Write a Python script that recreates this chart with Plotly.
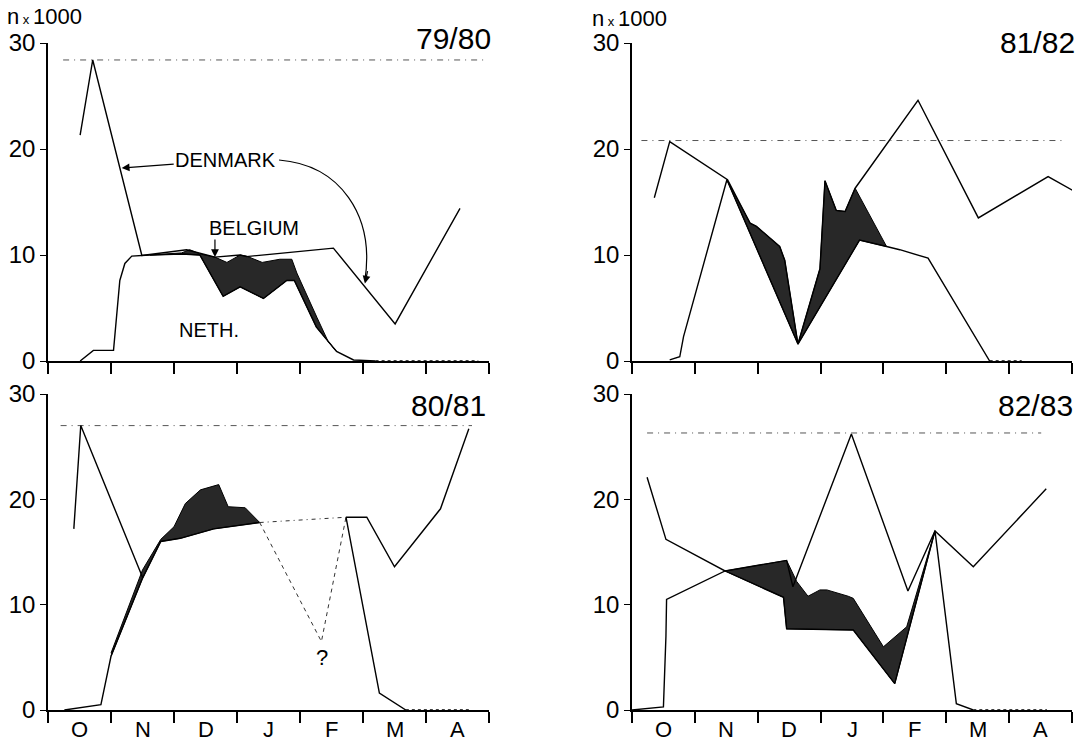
import plotly.graph_objects as go

FONT = "Liberation Sans, Arial, sans-serif"

months = ["O", "N", "D", "J", "F", "M", "A"]
month_centres = [0.5, 1.5, 2.5, 3.5, 4.5, 5.5, 6.5]
month_bounds = [0, 1, 2, 3, 4, 5, 6, 7]
y_ticks = [0, 10, 20, 30]

# ---- season 79/80 (x = months since 1 October, y = birds x 1000) ----
neth_7980_x = [0.51, 0.72, 1.04, 1.10, 1.14, 1.22, 1.33, 1.62, 2.12, 2.41, 2.78, 3.05, 3.42, 3.79, 3.91, 4.26, 4.58, 4.85, 5.2]
neth_7980_y = [0.0, 1.0, 1.0, 4.7, 7.6, 9.2, 9.9, 10.0, 10.1, 10.0, 6.1, 7.0, 5.9, 7.6, 7.6, 3.2, 0.9, 0.1, 0.0]
bel_7980_x = [1.62, 2.12, 2.25, 2.41, 2.65, 2.84, 3.05, 3.15, 3.40, 3.68, 3.87, 3.95, 4.27, 4.45, 4.58]
bel_7980_y = [10.0, 10.2, 10.5, 10.1, 9.8, 9.3, 10.0, 9.9, 9.3, 9.6, 9.6, 8.3, 4.1, 1.8, 0.9]
tot_7980_x = [0.51, 0.71, 1.49, 2.2, 2.65, 3.05, 3.15, 4.53, 5.51, 6.54]
tot_7980_y = [21.3, 28.4, 9.95, 10.5, 9.8, 10.0, 9.85, 10.65, 3.5, 14.4]
max_7980 = 28.4
max_span_7980 = [0.24, 6.97]
zero_span_7980 = [5.2, 6.83]

# ---- season 81/82 ----
neth_8182_x = [0.60, 0.76, 0.82, 1.51, 2.64, 3.62, 4.05, 4.26, 4.71, 5.69]
neth_8182_y = [0.1, 0.4, 2.3, 17.1, 1.6, 11.4, 10.8, 10.5, 9.7, 0.0]
bel_8182_x = [1.51, 1.88, 1.98, 2.35, 2.43, 2.64, 2.99, 3.07, 3.25, 3.39, 3.55, 4.05]
bel_8182_y = [17.1, 13.0, 12.7, 10.8, 9.5, 1.6, 8.7, 17.0, 14.2, 14.1, 16.3, 10.8]
tot_8182_x = [0.355, 0.60, 1.52, 1.88, 1.98, 2.35, 2.43, 2.64, 2.99, 3.07, 3.25, 3.39, 3.55, 4.55, 5.51, 6.62, 7.04]
tot_8182_y = [15.4, 20.7, 17.1, 13.0, 12.7, 10.8, 9.5, 1.6, 8.7, 17.0, 14.2, 14.1, 16.3, 24.6, 13.5, 17.4, 16.0]
max_8182 = 20.8
max_span_8182 = [0.15, 6.91]
zero_span_8182 = [5.69, 6.2]

# ---- season 80/81 ----
neth_8081_x = [0.26, 0.84, 1.0, 1.50, 1.79, 2.10, 2.63, 3.36]
neth_8081_y = [0.0, 0.5, 5.1, 12.5, 16.0, 16.3, 17.2, 17.8]
neth_est_8081_x = [3.36, 4.34, 4.73]
neth_est_8081_y = [17.8, 6.5, 18.3]
neth_late_8081_x = [4.73, 5.26, 5.68]
neth_late_8081_y = [18.3, 1.6, 0.0]
bel_8081_x = [1.0, 1.50, 1.79, 2.0, 2.18, 2.42, 2.71, 2.86, 3.13, 3.36]
bel_8081_y = [5.4, 13.3, 16.2, 17.4, 19.6, 20.9, 21.4, 19.3, 19.2, 17.8]
tot_8081_x = [0.41, 0.52, 1.50]
tot_8081_y = [17.2, 27.0, 12.6]
tot_est_8081_x = [3.36, 4.73]
tot_est_8081_y = [17.8, 18.3]
tot_late_8081_x = [4.73, 5.06, 5.50, 6.23, 6.68]
tot_late_8081_y = [18.3, 18.3, 13.6, 19.1, 26.7]
max_8081 = 27.0
max_span_8081 = [0.2, 6.73]
zero_span_8081 = [5.68, 6.7]

# ---- season 82/83 ----
neth_8283_x = [0.0, 0.5, 0.54, 0.55, 1.48, 2.41, 2.46, 3.52, 4.18, 4.42, 4.82, 5.16, 5.43]
neth_8283_y = [0.0, 0.3, 7.0, 10.5, 13.2, 10.7, 7.7, 7.6, 2.5, 7.9, 17.0, 0.6, 0.0]
bel_8283_x = [1.48, 2.03, 2.46, 2.62, 2.80, 2.99, 3.10, 3.44, 3.52, 4.0, 4.37, 4.82]
bel_8283_y = [13.2, 13.8, 14.2, 12.2, 10.8, 11.4, 11.4, 10.8, 10.6, 6.0, 7.9, 17.0]
tot_8283_x = [0.24, 0.54, 1.48, 2.03, 2.46, 2.56, 3.49, 4.39, 4.82, 5.43, 6.59]
tot_8283_y = [22.1, 16.2, 13.2, 13.8, 14.2, 11.7, 26.2, 11.3, 17.0, 13.6, 21.0]
max_8283 = 26.3
max_span_8283 = [0.24, 6.51]
zero_span_8283 = [5.43, 6.6]

fig = go.Figure()


def add_line(n, xs, ys, dash="solid", width=1.4, color="black"):
    fig.add_trace(go.Scatter(
        x=xs, y=ys, mode="lines", xaxis=f"x{n}", yaxis=f"y{n}",
        line=dict(color=color, width=width, dash=dash),
        cliponaxis=False, showlegend=False, hoverinfo="skip"))


def add_band(n, bel_x, bel_y, neth_x, neth_y):
    lo, hi = bel_x[0], bel_x[-1]
    seg = [(x, y) for x, y in zip(neth_x, neth_y) if lo <= x <= hi]
    seg.reverse()
    px = list(bel_x) + [p[0] for p in seg]
    py = list(bel_y) + [p[1] for p in seg]
    fig.add_trace(go.Scatter(
        x=px, y=py, mode="lines", fill="toself", fillcolor="rgb(40,40,40)",
        line=dict(color="black", width=1), xaxis=f"x{n}", yaxis=f"y{n}",
        cliponaxis=False, showlegend=False, hoverinfo="skip"))


def add_common(n, max_y, max_span, zero_span):
    add_line(n, max_span, [max_y, max_y], dash="6px,5px,1px,5px", width=1, color="#555")
    add_line(n, zero_span, [0, 0], dash="dot", width=1.5)


# 79/80 -> axis 1
add_common(1, max_7980, max_span_7980, zero_span_7980)
add_band(1, bel_7980_x, bel_7980_y, neth_7980_x, neth_7980_y)
add_line(1, neth_7980_x, neth_7980_y)
add_line(1, tot_7980_x, tot_7980_y)

# 81/82 -> axis 2
add_common(2, max_8182, max_span_8182, zero_span_8182)
add_band(2, bel_8182_x, bel_8182_y, neth_8182_x, neth_8182_y)
add_line(2, neth_8182_x, neth_8182_y)
add_line(2, tot_8182_x, tot_8182_y)

# 80/81 -> axis 3
add_common(3, max_8081, max_span_8081, zero_span_8081)
add_band(3, bel_8081_x, bel_8081_y, neth_8081_x, neth_8081_y)
add_line(3, neth_8081_x, neth_8081_y)
add_line(3, neth_est_8081_x, neth_est_8081_y, dash="4px,4px", width=1, color="#333")
add_line(3, neth_late_8081_x, neth_late_8081_y)
add_line(3, tot_8081_x, tot_8081_y)
add_line(3, tot_est_8081_x, tot_est_8081_y, dash="4px,4px,1px,4px", width=1, color="#333")
add_line(3, tot_late_8081_x, tot_late_8081_y)

# 82/83 -> axis 4
add_common(4, max_8283, max_span_8283, zero_span_8283)
add_band(4, bel_8283_x, bel_8283_y, neth_8283_x, neth_8283_y)
add_line(4, neth_8283_x, neth_8283_y)
add_line(4, tot_8283_x, tot_8283_y)

W, H = 1086, 741
left_dom = [48 / W, 489 / W]
right_dom = [632 / W, 1072 / W]
top_dom = [1 - 361 / H, 1 - 43 / H]
bot_dom = [1 - 710 / H, 1 - 394 / H]


def xaxis(dom, anchor):
    return dict(domain=dom, anchor=anchor, range=[0, 7], automargin=False,
                showgrid=False, zeroline=False,
                showline=True, linecolor="black", linewidth=1.5,
                tickmode="array", tickvals=month_bounds, ticks="outside",
                ticklen=11, tickwidth=1.5, tickcolor="black", showticklabels=False)


def yaxis(dom, anchor):
    return dict(domain=dom, anchor=anchor, range=[0, 30], automargin=False,
                showgrid=False, zeroline=False,
                showline=True, linecolor="black", linewidth=1.5,
                tickmode="array", tickvals=y_ticks, ticks="outside", ticklen=6,
                tickwidth=1.2, tickcolor="black",
                tickfont=dict(family=FONT, size=24, color="black"))


annotations = []


def label(n, x, y, text, size, xanchor="center"):
    annotations.append(dict(x=x, y=y, xref=f"x{n}", yref=f"y{n}", text=text,
                            showarrow=False, xanchor=xanchor, yanchor="middle",
                            font=dict(family=FONT, size=size, color="black")))


def paper_label(px, py, text, size, xanchor="right"):
    annotations.append(dict(x=px / W, y=1 - py / H, xref="paper", yref="paper", text=text,
                            showarrow=False, xanchor=xanchor, yanchor="middle",
                            font=dict(family=FONT, size=size, color="black")))


# month labels below the lower panels
for n in (3, 4):
    for xc, m in zip(month_centres, months):
        annotations.append(dict(x=xc, y=0, xref=f"x{n}", yref="paper", text=m,
                                showarrow=False, xanchor="center", yanchor="bottom",
                                borderpad=0, yshift=-2,
                                font=dict(family=FONT, size=22, color="black")))

paper_label(493, 39, "79/80", 30)
paper_label(1077, 43, "81/82", 30)
paper_label(488, 405, "80/81", 30)
paper_label(1075, 406, "82/83", 30)
label(1, 2.56, 2.9, "NETH.", 20)
label(1, 3.27, 12.55, "BELGIUM", 20)
label(3, 4.35, 5.0, "?", 22)

# DENMARK label with straight arrow to the descending line
annotations.append(dict(x=1.17, y=18.2, xref="x1", yref="y1", text="DENMARK",
                        showarrow=True, ax=104, ay=-8, arrowhead=2, arrowsize=1.3,
                        arrowwidth=1.2, arrowcolor="black", standoff=0,
                        font=dict(family=FONT, size=20, color="black")))
# Belgium arrow
annotations.append(dict(x=2.65, y=9.8, xref="x1", yref="y1", text="",
                        showarrow=True, ax=0, ay=-19, arrowhead=2, arrowsize=1.3,
                        arrowwidth=1.2, arrowcolor="black"))
# curved arrow head
annotations.append(dict(x=5.03, y=7.3, xref="x1", yref="y1", text="",
                        showarrow=True, ax=3, ay=-14, arrowhead=2, arrowsize=1.3,
                        arrowwidth=1.2, arrowcolor="black"))

for xp, yp in [(5, 17), (590, 18)]:
    annotations.append(dict(x=xp / W, y=1 - yp / H, xref="paper", yref="paper",
                            text="n<span style='font-size:13px'> x </span>1000",
                            showarrow=False, xanchor="left", yanchor="middle",
                            font=dict(family=FONT, size=22, color="black")))

shapes = [dict(type="path", xref="x1", yref="y1",
               path="M 3.667,18.96 C 4.635,18.49 5.19,13.77 5.03,7.6",
               line=dict(color="black", width=1.2))]

fig.update_layout(
    width=W, height=H, margin=dict(l=0, r=0, t=0, b=0),
    paper_bgcolor="white", plot_bgcolor="white", showlegend=False,
    xaxis1=xaxis(left_dom, "y1"), yaxis1=yaxis(top_dom, "x1"),
    xaxis2=xaxis(right_dom, "y2"), yaxis2=yaxis(top_dom, "x2"),
    xaxis3=xaxis(left_dom, "y3"), yaxis3=yaxis(bot_dom, "x3"),
    xaxis4=xaxis(right_dom, "y4"), yaxis4=yaxis(bot_dom, "x4"),
    annotations=annotations, shapes=shapes,
)

fig.write_html("out.html")
